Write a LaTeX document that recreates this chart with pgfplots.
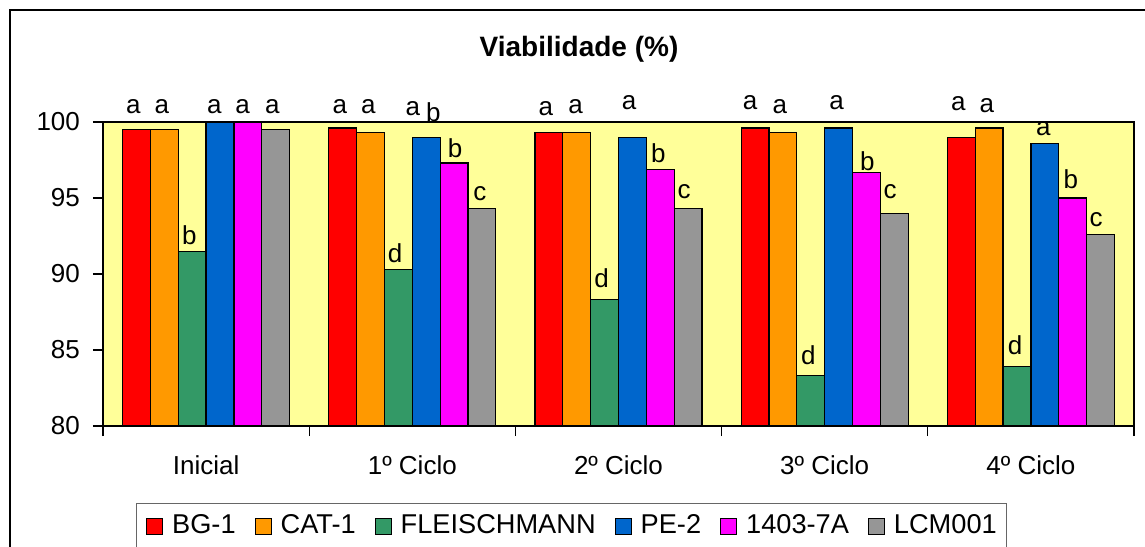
\documentclass[border=0pt]{standalone}
\usepackage{fontspec}
\setmainfont{Liberation Sans}
\usepackage{pgfplots}
\usepackage{pgfplotstable}
\pgfplotsset{compat=1.18}

\definecolor{fundo}{HTML}{FFFF99}
\definecolor{cbg}{HTML}{FF0000}
\definecolor{ccat}{HTML}{FF9900}
\definecolor{cfl}{HTML}{339966}
\definecolor{cpe}{HTML}{0066CC}
\definecolor{cmg}{HTML}{FF00FF}
\definecolor{clcm}{HTML}{969696}

% viabilidade (%) por ciclo
\pgfplotstableread{
x BG CAT FL PE T LCM
0 99.5 99.5 91.5 100.0 100.0 99.5
1 99.6 99.3 90.3 99.0 97.3 94.3
2 99.3 99.3 88.3 99.0 96.9 94.3
3 99.6 99.3 83.3 99.6 96.7 94.0
4 99.0 99.6 83.9 98.6 95.0 92.6
}\viab

% letras (teste de medias), posicao da linha de base
\pgfplotstableread{
x y lab
-0.353 100.55 a
-0.215 100.55 a
-0.0815 91.94 b
0.040 100.55 a
0.1775 100.55 a
0.321 100.55 a
0.649 100.55 a
0.787 100.55 a
0.916 90.77 d
1.003 100.44 a
1.102 100.05 b
1.207 97.69 b
1.328 94.84 c
1.648 100.44 a
1.792 100.55 a
1.918 89.12 d
2.051 100.82 a
2.193 97.36 b
2.318 94.95 c
2.638 100.82 a
2.783 100.55 a
2.921 84.07 d
3.058 100.82 a
3.207 96.82 b
3.317 94.95 c
3.648 100.73 a
3.786 100.60 a
3.923 84.73 d
4.060 99.12 a
4.194 95.60 b
4.316 93.14 c
}\letras

\newcommand{\fs}{\fontsize{13}{15}\selectfont}

\begin{document}
\begin{tikzpicture}
\path[use as bounding box, clip] (-51.5pt,-60pt) rectangle (521pt,213pt);
\draw[line width=0.75pt] (-46.5pt,-70pt) -- (-46.5pt,208pt) -- (540pt,208pt);

\begin{axis}[
  at={(0pt,0pt)}, anchor=south west,
  scale only axis, width=515.5pt, height=152pt,
  xmin=-0.5, xmax=4.5, ymin=80, ymax=100,
  axis background/.style={fill=fundo},
  axis line style={black, line width=0.6pt},
  tick align=outside, xtick pos=left, ytick pos=left,
  tick style={black, line width=0.6pt},
  major tick length=5pt, minor tick length=5pt,
  ytick={80,85,...,100},
  xtick={0,...,4},
  xticklabels={Inicial, 1º Ciclo, 2º Ciclo, 3º Ciclo, 4º Ciclo},
  major x tick style={draw=none},
  minor xtick={-0.5,0.5,...,4.5},
  ticklabel style={font=\fs},
  /pgf/number format/assume math mode=true,
  yticklabel style={anchor=east, inner sep=0pt, xshift=-6.35pt},
  xticklabel style={anchor=base, inner sep=0pt, yshift=-19.4pt},
  title={Viabilidade (\%)},
  title style={at={(axis description cs:0.4617,1)}, anchor=base, yshift=26.85pt,
    inner sep=0pt, font=\bfseries\fontsize{14}{16}\selectfont},
  legend columns=-1,
  legend image code/.code={\draw[#1, draw=black, line width=0.5pt] (0pt,-2.6pt) rectangle (8pt,5.4pt);},
  legend style={at={(axis description cs:0.0317,-0.2523)}, anchor=north west,
    draw=black!60, line width=0.5pt, font=\fontsize{13.6}{15}\selectfont,
    inner xsep=5pt, inner ysep=5.8pt,
    nodes={inner sep=0pt, text height=9.5pt, text depth=5pt},
    /tikz/every odd column/.append style={column sep=4.5pt},
    /tikz/every even column/.append style={column sep=9.5pt}},
  every axis plot/.append style={ybar, bar width=0.135, draw=black, line width=0.6pt},
]
\addplot[fill=cbg, bar shift=-0.3375] table[x=x, y=BG] {\viab};
\addplot[fill=ccat, bar shift=-0.2025] table[x=x, y=CAT] {\viab};
\addplot[fill=cfl, bar shift=-0.0675] table[x=x, y=FL] {\viab};
\addplot[fill=cpe, bar shift=0.0675] table[x=x, y=PE] {\viab};
\addplot[fill=cmg, bar shift=0.2025] table[x=x, y=T] {\viab};
\addplot[fill=clcm, bar shift=0.3375] table[x=x, y=LCM] {\viab};
\legend{BG-1, CAT-1, FLEISCHMANN, PE-2, 1403-7A, LCM001}
\end{axis}

\begin{axis}[
  at={(0pt,0pt)}, anchor=south west,
  scale only axis, width=515.5pt, height=152pt,
  xmin=-0.5, xmax=4.5, ymin=80, ymax=100,
  hide axis, clip=false,
]
\addplot[draw=none, mark=none, point meta=explicit symbolic,
  nodes near coords,
  nodes near coords style={anchor=base, inner sep=0pt, font=\fs}]
  table[x=x, y=y, meta=lab] {\letras};
\end{axis}
\end{tikzpicture}
\end{document}
